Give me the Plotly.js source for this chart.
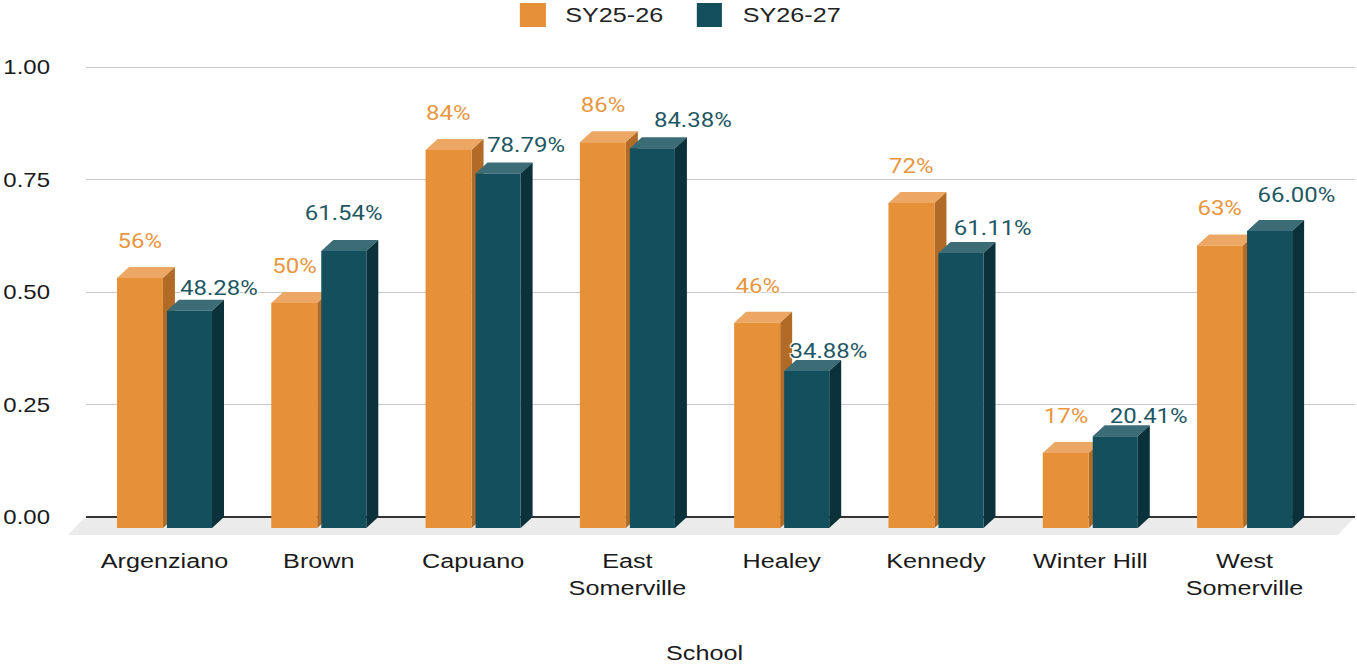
<!DOCTYPE html>
<html>
<head>
<meta charset="utf-8">
<script src="https://cdn.plot.ly/plotly-3.0.1.min.js"></script>
<style>
  html, body { margin: 0; padding: 0; background: #fff; overflow: hidden; }
  #wrap { width: 1357px; height: 664px; overflow: hidden; }
  #chart { width: 1131px; height: 664px; transform: scaleX(1.19982); transform-origin: 0 0; }
</style>
</head>
<body>
<div id="wrap"><div id="chart"></div></div>
<script>
// ---- data ----
const schools = ['Argenziano', 'Brown', 'Capuano', 'East Somerville', 'Healey', 'Kennedy', 'Winter Hill', 'West Somerville'];
const tickLabels = ['Argenziano', 'Brown', 'Capuano', 'East<br>Somerville', 'Healey', 'Kennedy', 'Winter Hill', 'West<br>Somerville'];
const seriesNames = ['SY25-26', 'SY26-27'];
const sy2526 = [0.5556, 0.50, 0.84, 0.8571, 0.456, 0.7222, 0.1667, 0.6279];
const sy2627 = [0.4828, 0.6154, 0.7879, 0.8438, 0.3488, 0.6111, 0.2041, 0.66];
const yTicks = [0, 0.25, 0.5, 0.75, 1.0];

// ---- style / layout constants ----
const W = 1131, H = 664;
const colors = {
  front: ['#E69138', '#134F5C'],
  top:   ['#EDA764', '#3C6C76'],
  side:  ['#B26B27', '#0B323B'],
  label: ['#E8963F', '#1E5763']
};
const barOffset = [-0.308, 0.016];
const barWidth = [0.298, 0.292];
const labelDecimals = [0, 2];
const orangeLabelDy = 37;
const tealLabelDx = [25, 0, 23.3, 33.3, 18.3, 26.7, 28.3, 22.5];
const tealLabelDy = [23, 38, 28, 28, 20, 25, 20, 36];

const xFrontDomain = [0.06437, 0.97401];
const xRange = [-0.5, 7.5];
const yFrontDomain = [0.204819, 0.950301];
const yBackDomain = [0.221386, 0.966867];
const yRange = [0, 1.1];
const depthPx = 10, depthPy = 11;
const pxPerX = W * (xFrontDomain[1] - xFrontDomain[0]) / (xRange[1] - xRange[0]);
const pxPerY = H * (yFrontDomain[1] - yFrontDomain[0]) / (yRange[1] - yRange[0]);
const dX = depthPx / pxPerX, dY = depthPy / pxPerY;

const series = [sy2526, sy2627];
const xIdx = schools.map((_, i) => i);

// back plane (gridlines / y ticks) needs a trace to register its subplot
const traces = [{
  type: 'scatter', mode: 'markers', x: [null], y: [null],
  xaxis: 'x', yaxis: 'y', showlegend: false, hoverinfo: 'skip'
}];
series.forEach((vals, s) => traces.push({
  type: 'bar',
  name: seriesNames[s],
  x: xIdx,
  y: vals,
  xaxis: 'x2',
  yaxis: 'y2',
  offset: barOffset[s],
  width: barWidth[s],
  marker: { color: colors.front[s], line: { width: 0 } },
  showlegend: false,
  hoverinfo: 'skip'
}));

const shapes = [];
// floor
shapes.push({
  type: 'path', xref: 'paper', yref: 'paper', layer: 'below',
  path: 'M 0.05013 0.19428 L 0.06261 0.221386 L 0.99841 0.221386 L 0.98585 0.19428 Z',
  fillcolor: '#EBEBEB', line: { width: 0 }
});
// 3D faces
series.forEach((vals, s) => {
  vals.forEach((v, i) => {
    const x0 = i + barOffset[s], x1 = x0 + barWidth[s];
    shapes.push({
      type: 'path', xref: 'x2', yref: 'y2', layer: 'below',
      path: `M ${x0} ${v} L ${x1} ${v} L ${x1 + dX} ${v + dY} L ${x0 + dX} ${v + dY} Z`,
      fillcolor: colors.top[s], line: { width: 0 }
    });
    shapes.push({
      type: 'path', xref: 'x2', yref: 'y2', layer: 'below',
      path: `M ${x1} 0 L ${x1} ${v} L ${x1 + dX} ${v + dY} L ${x1 + dX} ${dY} Z`,
      fillcolor: colors.side[s], line: { width: 0 }
    });
  });
});
// legend swatches
const legendSw = [[0.3831, 0.4023], [0.5135, 0.5320]];
legendSw.forEach((xx, s) => {
  shapes.push({
    type: 'rect', xref: 'paper', yref: 'paper', layer: 'above',
    x0: xx[0], x1: xx[1], y0: 0.9593, y1: 0.99548,
    fillcolor: colors.front[s], line: { width: 0 }
  });
});

const halo = '1px 1px 1px #fff, -1px -1px 1px #fff, 1px -1px 1px #fff, -1px 1px 1px #fff';
const annotations = [];
series.forEach((vals, s) => {
  vals.forEach((v, i) => {
    annotations.push({
      xref: 'x2', yref: 'y2',
      x: i + barOffset[s] + barWidth[s] / 2, y: v,
      xanchor: 'center', yanchor: 'middle',
      xshift: s === 0 ? 0 : tealLabelDx[i],
      yshift: s === 0 ? orangeLabelDy : tealLabelDy[i],
      text: (v * 100).toFixed(labelDecimals[s]) + '%',
      showarrow: false,
      font: { family: 'Roboto, sans-serif', size: 20, color: colors.label[s], shadow: halo }
    });
  });
});
// legend texts
const legendTextX = [0.4149, 0.5453];
seriesNames.forEach((n, s) => {
  annotations.push({
    xref: 'paper', yref: 'paper', x: legendTextX[s], y: 0.97741,
    xanchor: 'left', yanchor: 'middle', showarrow: false, text: n,
    font: { family: 'Liberation Sans, Arial, sans-serif', size: 21, color: '#222' }
  });
});

const layout = {
  width: W, height: H,
  margin: { l: 0, r: 0, t: 0, b: 0 },
  paper_bgcolor: '#fff',
  plot_bgcolor: 'rgba(0,0,0,0)',
  barmode: 'overlay',
  showlegend: false,
  font: { family: 'Liberation Sans, Arial, sans-serif', color: '#222' },
  // back plane: gridlines, y ticks
  xaxis: {
    domain: [0.06337, 0.99853], range: xRange, anchor: 'y',
    showgrid: false, zeroline: false, showline: false, showticklabels: false, ticks: ''
  },
  yaxis: {
    domain: yBackDomain, range: yRange, anchor: 'x',
    tickvals: yTicks, tickformat: '.2f',
    showgrid: true, gridcolor: '#C8C8C8', gridwidth: 1,
    zeroline: true, zerolinecolor: '#333333', zerolinewidth: 1.5,
    showline: false, ticks: 'outside', ticklen: 25, tickcolor: 'rgba(0,0,0,0)',
    tickfont: { family: 'Liberation Sans, Arial, sans-serif', size: 20, color: '#1a1a1a' }
  },
  // front plane: bars, x labels
  xaxis2: {
    domain: xFrontDomain, range: xRange, anchor: 'y2',
    tickvals: xIdx, ticktext: tickLabels,
    showgrid: false, zeroline: false, showline: false, ticks: '',
    ticklabelstandoff: 18,
    tickfont: { family: 'Liberation Sans, Arial, sans-serif', size: 21, color: '#1a1a1a' },
    title: { text: 'School', standoff: 52, font: { family: 'Liberation Sans, Arial, sans-serif', size: 21, color: '#1a1a1a' } }
  },
  yaxis2: {
    domain: yFrontDomain, range: yRange, anchor: 'x2',
    visible: false, showgrid: false, zeroline: false
  },
  shapes: shapes,
  annotations: annotations
};

Plotly.newPlot('chart', traces, layout, { staticPlot: true, responsive: false });
</script>
</body>
</html>
